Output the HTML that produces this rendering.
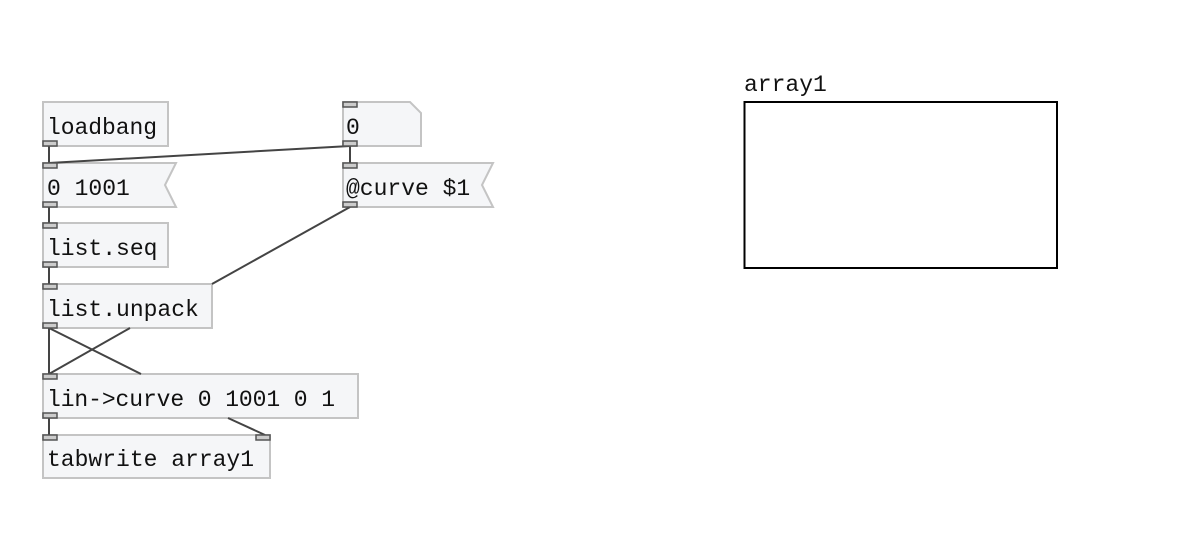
<!DOCTYPE html>
<html><head><meta charset="utf-8"><style>
html,body{margin:0;padding:0;background:#fff;}
svg{display:block}
text{font-family:"Liberation Mono","DejaVu Sans Mono",monospace;font-size:23px;fill:#111;}
</style></head><body>
<svg width="1184" height="538" viewBox="0 0 1184 538" xmlns="http://www.w3.org/2000/svg">
<g fill="#f5f6f8" stroke="#c4c4c4" stroke-width="2">
<rect x="43" y="102" width="125" height="44"/>
<path d="M43 163 H176 L165 185 L176 207 H43 Z" fill="#f5f6f8"/>
<rect x="43" y="223" width="125" height="44"/>
<rect x="43" y="284" width="169" height="44"/>
<rect x="43" y="374" width="315" height="44"/>
<rect x="43" y="435" width="227" height="43"/>
<path d="M343 102 H410 L421 113 V146 H343 Z"/>
<path d="M343 163 H493 L482 185 L493 207 H343 Z"/>
</g>
<g stroke="#444" stroke-width="2" fill="none">
<line x1="49" y1="146" x2="49" y2="163"/>
<line x1="350" y1="146" x2="49" y2="163"/>
<line x1="350" y1="146" x2="350" y2="163"/>
<line x1="49" y1="207" x2="49" y2="223"/>
<line x1="49" y1="267" x2="49" y2="284"/>
<line x1="350" y1="207" x2="212" y2="284"/>
<line x1="130" y1="328" x2="49" y2="374"/>
<line x1="49" y1="328" x2="49" y2="374"/>
<line x1="49" y1="328" x2="141" y2="374"/>
<line x1="228" y1="418" x2="265" y2="435"/>
<line x1="49" y1="418" x2="49" y2="435"/>
</g>
<g fill="#ccc" stroke="#555" stroke-width="1.5">
<rect x="43" y="141" width="14" height="5"/>
<rect x="43" y="163" width="14" height="5"/>
<rect x="43" y="202" width="14" height="5"/>
<rect x="43" y="223" width="14" height="5"/>
<rect x="43" y="262" width="14" height="5"/>
<rect x="43" y="284" width="14" height="5"/>
<rect x="43" y="323" width="14" height="5"/>
<rect x="43" y="374" width="14" height="5"/>
<rect x="43" y="413" width="14" height="5"/>
<rect x="43" y="435" width="14" height="5"/>
<rect x="256" y="435" width="14" height="5"/>
<rect x="343" y="102" width="14" height="5"/>
<rect x="343" y="141" width="14" height="5"/>
<rect x="343" y="163" width="14" height="5"/>
<rect x="343" y="202" width="14" height="5"/>
</g>
<text x="47" y="134" textLength="110">loadbang</text>
<text x="47" y="195">0 1001</text>
<text x="47" y="255">list.seq</text>
<text x="47" y="316">list.unpack</text>
<text x="47" y="406" textLength="288">lin-&gt;curve 0 1001 0 1</text>
<text x="47" y="466">tabwrite array1</text>
<text x="346" y="134">0</text>
<text x="346" y="195">@curve $1</text>
<text x="744" y="91">array1</text>
<rect x="744.5" y="102" width="312.5" height="166" fill="#fff" stroke="#000" stroke-width="2"/>
</svg>
</body></html>
